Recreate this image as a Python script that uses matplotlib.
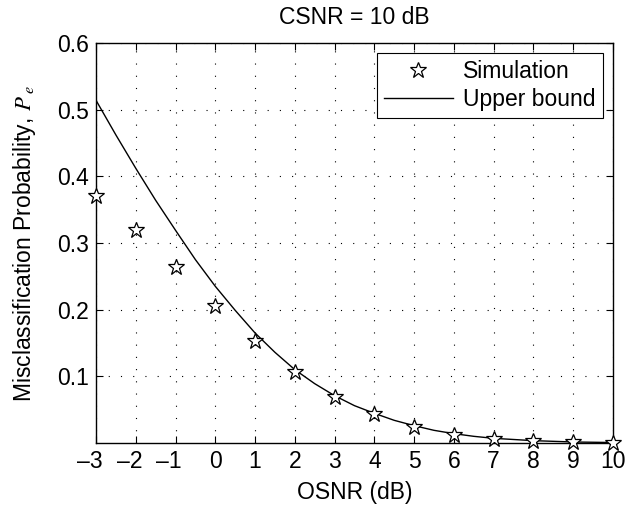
import matplotlib
matplotlib.use("Agg")
import matplotlib.pyplot as plt

osnr_sim = [-3, -2, -1, 0, 1, 2, 3, 4, 5, 6, 7, 8, 9, 10]
pe_sim = [0.371, 0.319, 0.264, 0.206, 0.153, 0.106, 0.0695, 0.043, 0.0245,
          0.012, 0.006, 0.003, 0.0012, 0.0005]

osnr_bound = [-3, -2.5, -2, -1.5, -1, -0.5, 0, 0.5, 1, 1.5, 2, 2.5, 3, 3.5,
              4, 4.5, 5, 5.5, 6, 6.5, 7, 8, 9, 10]
pe_bound = [0.514, 0.462, 0.412, 0.364, 0.319, 0.275, 0.235, 0.199, 0.165,
            0.136, 0.110, 0.089, 0.071, 0.056, 0.0445, 0.034, 0.026, 0.019,
            0.014, 0.010, 0.007, 0.0035, 0.0015, 0.0007]

xticks = list(range(-3, 11))
yticks = [0.1, 0.2, 0.3, 0.4, 0.5, 0.6]

plt.rcParams['font.family'] = ['Liberation Sans', 'DejaVu Sans']
plt.rcParams['mathtext.fontset'] = 'stix'

FS = 16.5

fig = plt.figure(figsize=(6.26, 5.05), dpi=100)
ax = fig.add_axes([0.1534, 0.1228, 0.979 - 0.1534, 0.9149 - 0.1228])

ax.plot(osnr_sim, pe_sim, linestyle='none', marker='*', markersize=12,
        markerfacecolor='white', markeredgecolor='black', markeredgewidth=0.9,
        label='Simulation', clip_on=False, zorder=3)
ax.plot(osnr_bound, pe_bound, color='black', linewidth=1.0, label='Upper bound')

ax.set_xlim(-3, 10)
ax.set_ylim(0, 0.6)
ax.set_xticks(xticks)
ax.set_yticks(yticks)


def xlab(v):
    # minus hangs to the left of the tick, digits stay centred on it
    return ('\u2013' + str(-v) + '\u2007') if v < 0 else str(v)


ax.set_xticklabels([xlab(v) for v in xticks])
ax.set_yticklabels([f'{v:.1f}' for v in yticks])
ax.tick_params(direction='in', top=True, right=True, labelsize=FS, length=5,
               width=0.8, pad=5)
ax.grid(True, color='black', linestyle=(0, (1, 10)), linewidth=0.8)
for s in ax.spines.values():
    s.set_linewidth(1.0)

ax.set_xlabel('OSNR (dB)', fontsize=FS, labelpad=6)
ax.set_ylabel('Misclassification Probability, $P_{\\ e}$', fontsize=FS, labelpad=14)
ax.set_title('CSNR = 10 dB', fontsize=FS, pad=14)

leg = ax.legend(loc='upper right', fontsize=FS, frameon=True, fancybox=False,
                edgecolor='black', framealpha=1, borderpad=0.3,
                handlelength=3.0, handletextpad=0.45, borderaxespad=0.45,
                labelspacing=0.2)
leg.get_frame().set_linewidth(0.8)

fig.savefig('out.png', dpi=100)
